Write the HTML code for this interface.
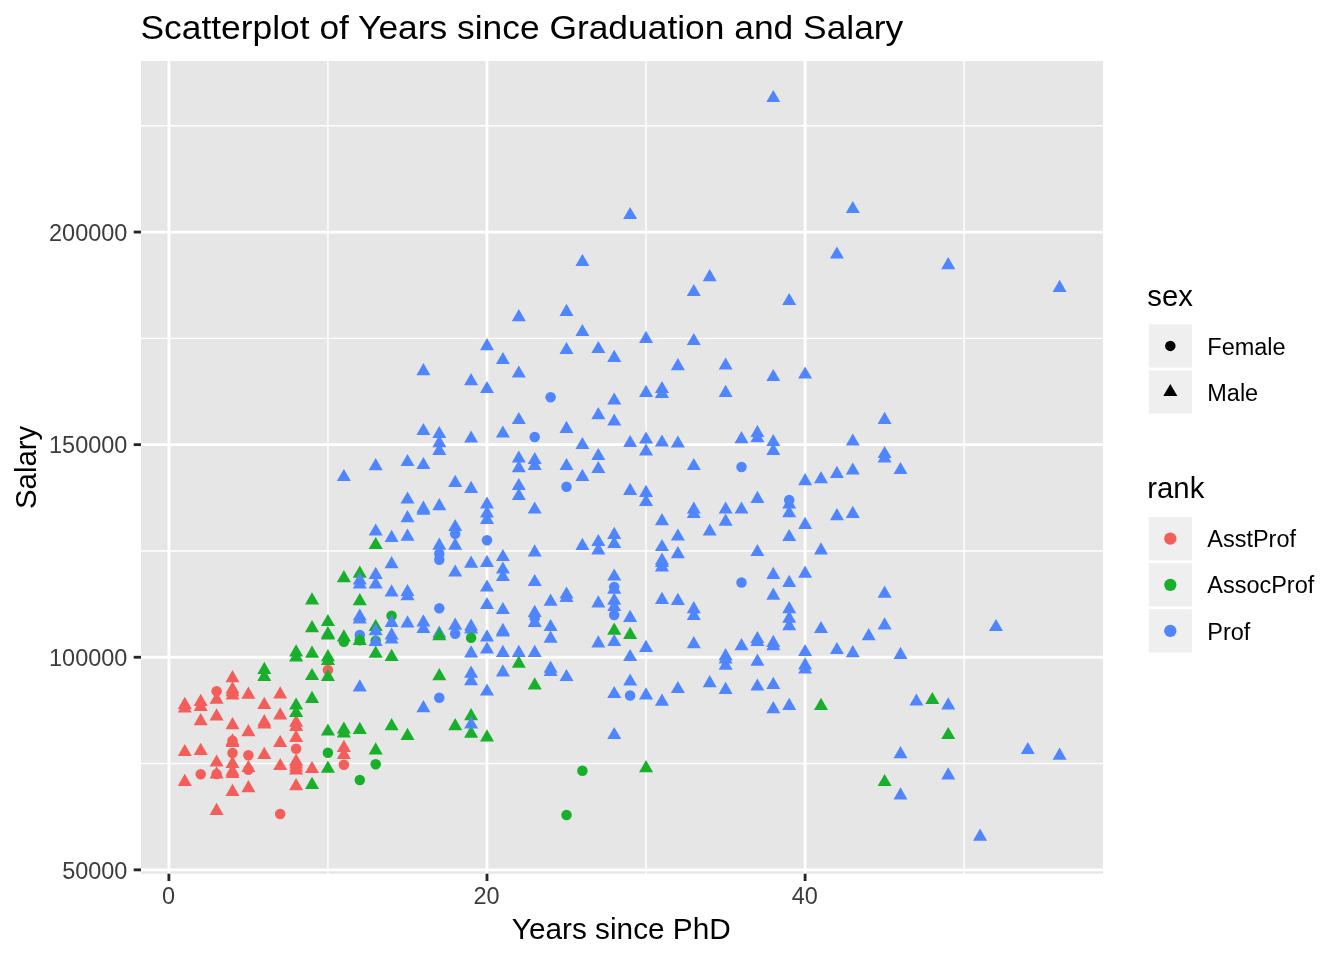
<!DOCTYPE html>
<html lang="en"><head><meta charset="utf-8"><title>Scatterplot of Years since Graduation and Salary</title>
<style>html,body{margin:0;padding:0;background:#fff}body{width:1344px;height:960px;overflow:hidden}svg{display:block}text{font-family:"Liberation Sans",sans-serif}</style>
</head><body>
<svg width="1344" height="960" viewBox="0 0 1344 960">
<rect width="1344" height="960" fill="#fff"/>
<rect x="141.0" y="61.0" width="962.0" height="812.7" fill="#E6E6E6"/>
<g stroke="#fff" stroke-width="1.42" fill="none">
<line x1="327.95" x2="327.95" y1="61.0" y2="873.7"/>
<line x1="646.05" x2="646.05" y1="61.0" y2="873.7"/>
<line x1="964.15" x2="964.15" y1="61.0" y2="873.7"/>
<line y1="763.55" y2="763.55" x1="141.0" x2="1103.0"/>
<line y1="550.95" y2="550.95" x1="141.0" x2="1103.0"/>
<line y1="338.35" y2="338.35" x1="141.0" x2="1103.0"/>
<line y1="125.75" y2="125.75" x1="141.0" x2="1103.0"/>
</g>
<g stroke="#fff" stroke-width="2.84" fill="none">
<line x1="168.90" x2="168.90" y1="61.0" y2="873.7"/>
<line x1="487.00" x2="487.00" y1="61.0" y2="873.7"/>
<line x1="805.10" x2="805.10" y1="61.0" y2="873.7"/>
<line y1="869.85" y2="869.85" x1="141.0" x2="1103.0"/>
<line y1="657.25" y2="657.25" x1="141.0" x2="1103.0"/>
<line y1="444.65" y2="444.65" x1="141.0" x2="1103.0"/>
<line y1="232.05" y2="232.05" x1="141.0" x2="1103.0"/>
</g>
<g>
<polygon points="359.8,565.6 366.8,577.8 352.7,577.8" fill="#18B02B"/>
<circle cx="359.8" cy="635.0" r="5.25" fill="#4F86FF"/>
<polygon points="375.7,618.9 382.7,631.1 368.6,631.1" fill="#18B02B"/>
<circle cx="375.7" cy="640.8" r="5.25" fill="#18B02B"/>
<circle cx="391.6" cy="615.8" r="5.25" fill="#18B02B"/>
<polygon points="439.3,625.6 446.3,637.8 432.3,637.8" fill="#4F86FF"/>
<polygon points="296.1,714.6 303.2,726.8 289.1,726.8" fill="#F45E5A"/>
<circle cx="327.9" cy="670.0" r="5.25" fill="#F45E5A"/>
<polygon points="471.1,708.1 478.1,720.3 464.1,720.3" fill="#18B02B"/>
<polygon points="773.3,89.9 780.3,102.1 766.3,102.1" fill="#4F86FF"/>
<polygon points="630.1,206.9 637.2,219.1 623.1,219.1" fill="#4F86FF"/>
<polygon points="582.4,253.9 589.4,266.1 575.4,266.1" fill="#4F86FF"/>
<polygon points="709.7,269.1 716.7,281.3 702.7,281.3" fill="#4F86FF"/>
<polygon points="693.8,283.9 700.8,296.1 686.8,296.1" fill="#4F86FF"/>
<polygon points="852.8,200.9 859.8,213.1 845.8,213.1" fill="#4F86FF"/>
<polygon points="836.9,246.4 843.9,258.6 829.9,258.6" fill="#4F86FF"/>
<polygon points="948.2,257.1 955.3,269.3 941.2,269.3" fill="#4F86FF"/>
<polygon points="1059.6,279.7 1066.6,291.9 1052.6,291.9" fill="#4F86FF"/>
<polygon points="487.0,338.1 494.0,350.3 480.0,350.3" fill="#4F86FF"/>
<polygon points="487.0,380.9 494.0,393.1 480.0,393.1" fill="#4F86FF"/>
<polygon points="487.0,496.4 494.0,508.6 480.0,508.6" fill="#4F86FF"/>
<polygon points="487.0,505.4 494.0,517.6 480.0,517.6" fill="#4F86FF"/>
<polygon points="502.9,351.9 509.9,364.1 495.9,364.1" fill="#4F86FF"/>
<polygon points="502.9,425.4 509.9,437.6 495.9,437.6" fill="#4F86FF"/>
<polygon points="518.8,309.1 525.8,321.3 511.8,321.3" fill="#4F86FF"/>
<polygon points="518.8,365.4 525.8,377.6 511.8,377.6" fill="#4F86FF"/>
<polygon points="518.8,411.9 525.8,424.1 511.8,424.1" fill="#4F86FF"/>
<polygon points="518.8,450.4 525.8,462.6 511.8,462.6" fill="#4F86FF"/>
<polygon points="518.8,460.1 525.8,472.3 511.8,472.3" fill="#4F86FF"/>
<polygon points="518.8,477.9 525.8,490.1 511.8,490.1" fill="#4F86FF"/>
<polygon points="518.8,487.9 525.8,500.1 511.8,500.1" fill="#4F86FF"/>
<circle cx="534.7" cy="437.0" r="5.25" fill="#4F86FF"/>
<polygon points="534.7,451.9 541.7,464.1 527.7,464.1" fill="#4F86FF"/>
<polygon points="534.7,457.7 541.7,469.9 527.7,469.9" fill="#4F86FF"/>
<polygon points="534.7,501.4 541.7,513.6 527.7,513.6" fill="#4F86FF"/>
<circle cx="550.6" cy="397.2" r="5.25" fill="#4F86FF"/>
<polygon points="566.5,303.7 573.5,315.9 559.5,315.9" fill="#4F86FF"/>
<polygon points="566.5,341.9 573.5,354.1 559.5,354.1" fill="#4F86FF"/>
<polygon points="566.5,420.7 573.5,432.9 559.5,432.9" fill="#4F86FF"/>
<polygon points="566.5,457.9 573.5,470.1 559.5,470.1" fill="#4F86FF"/>
<circle cx="566.5" cy="486.8" r="5.25" fill="#4F86FF"/>
<polygon points="582.4,323.9 589.4,336.1 575.4,336.1" fill="#4F86FF"/>
<polygon points="582.4,436.9 589.4,449.1 575.4,449.1" fill="#4F86FF"/>
<polygon points="582.4,468.7 589.4,480.9 575.4,480.9" fill="#4F86FF"/>
<polygon points="598.3,340.9 605.4,353.1 591.3,353.1" fill="#4F86FF"/>
<polygon points="598.3,407.1 605.4,419.3 591.3,419.3" fill="#4F86FF"/>
<polygon points="598.3,447.9 605.4,460.1 591.3,460.1" fill="#4F86FF"/>
<polygon points="598.3,460.9 605.4,473.1 591.3,473.1" fill="#4F86FF"/>
<polygon points="614.2,349.7 621.3,361.9 607.2,361.9" fill="#4F86FF"/>
<polygon points="614.2,392.4 621.3,404.6 607.2,404.6" fill="#4F86FF"/>
<polygon points="614.2,413.4 621.3,425.6 607.2,425.6" fill="#4F86FF"/>
<polygon points="630.1,434.9 637.2,447.1 623.1,447.1" fill="#4F86FF"/>
<polygon points="630.1,482.7 637.2,494.9 623.1,494.9" fill="#4F86FF"/>
<polygon points="646.0,330.7 653.1,342.9 639.0,342.9" fill="#4F86FF"/>
<polygon points="646.0,384.7 653.1,396.9 639.0,396.9" fill="#4F86FF"/>
<polygon points="646.0,431.4 653.1,443.6 639.0,443.6" fill="#4F86FF"/>
<polygon points="646.0,443.4 653.1,455.6 639.0,455.6" fill="#4F86FF"/>
<polygon points="646.0,484.7 653.1,496.9 639.0,496.9" fill="#4F86FF"/>
<polygon points="646.0,493.9 653.1,506.1 639.0,506.1" fill="#4F86FF"/>
<polygon points="662.0,380.9 669.0,393.1 654.9,393.1" fill="#4F86FF"/>
<polygon points="662.0,385.7 669.0,397.9 654.9,397.9" fill="#4F86FF"/>
<polygon points="662.0,434.4 669.0,446.6 654.9,446.6" fill="#4F86FF"/>
<polygon points="677.9,358.1 684.9,370.3 670.8,370.3" fill="#4F86FF"/>
<polygon points="677.9,435.4 684.9,447.6 670.8,447.6" fill="#4F86FF"/>
<polygon points="693.8,332.9 700.8,345.1 686.8,345.1" fill="#4F86FF"/>
<polygon points="693.8,457.9 700.8,470.1 686.8,470.1" fill="#4F86FF"/>
<polygon points="693.8,501.4 700.8,513.6 686.8,513.6" fill="#4F86FF"/>
<polygon points="693.8,505.9 700.8,518.1 686.8,518.1" fill="#4F86FF"/>
<polygon points="725.6,357.4 732.6,369.6 718.6,369.6" fill="#4F86FF"/>
<polygon points="725.6,384.7 732.6,396.9 718.6,396.9" fill="#4F86FF"/>
<polygon points="725.6,501.4 732.6,513.6 718.6,513.6" fill="#4F86FF"/>
<polygon points="741.5,431.1 748.5,443.3 734.5,443.3" fill="#4F86FF"/>
<circle cx="741.5" cy="467.0" r="5.25" fill="#4F86FF"/>
<polygon points="741.5,501.4 748.5,513.6 734.5,513.6" fill="#4F86FF"/>
<polygon points="757.4,424.9 764.4,437.1 750.4,437.1" fill="#4F86FF"/>
<polygon points="757.4,430.1 764.4,442.3 750.4,442.3" fill="#4F86FF"/>
<polygon points="757.4,490.7 764.4,502.9 750.4,502.9" fill="#4F86FF"/>
<polygon points="773.3,368.9 780.3,381.1 766.3,381.1" fill="#4F86FF"/>
<polygon points="773.3,433.9 780.3,446.1 766.3,446.1" fill="#4F86FF"/>
<polygon points="773.3,442.9 780.3,455.1 766.3,455.1" fill="#4F86FF"/>
<polygon points="789.2,292.9 796.2,305.1 782.2,305.1" fill="#4F86FF"/>
<circle cx="789.2" cy="500.0" r="5.25" fill="#4F86FF"/>
<polygon points="789.2,496.4 796.2,508.6 782.2,508.6" fill="#4F86FF"/>
<polygon points="789.2,505.1 796.2,517.3 782.2,517.3" fill="#4F86FF"/>
<polygon points="805.1,366.4 812.1,378.6 798.1,378.6" fill="#4F86FF"/>
<polygon points="805.1,473.1 812.1,485.3 798.1,485.3" fill="#4F86FF"/>
<polygon points="821.0,471.1 828.0,483.3 814.0,483.3" fill="#4F86FF"/>
<polygon points="836.9,465.7 843.9,477.9 829.9,477.9" fill="#4F86FF"/>
<polygon points="852.8,433.4 859.8,445.6 845.8,445.6" fill="#4F86FF"/>
<polygon points="852.8,462.4 859.8,474.6 845.8,474.6" fill="#4F86FF"/>
<polygon points="852.8,505.7 859.8,517.9 845.8,517.9" fill="#4F86FF"/>
<polygon points="884.6,411.7 891.6,423.9 877.6,423.9" fill="#4F86FF"/>
<polygon points="884.6,445.9 891.6,458.1 877.6,458.1" fill="#4F86FF"/>
<polygon points="884.6,450.4 891.6,462.6 877.6,462.6" fill="#4F86FF"/>
<polygon points="900.5,461.9 907.5,474.1 893.5,474.1" fill="#4F86FF"/>
<polygon points="343.9,468.9 350.9,481.1 336.8,481.1" fill="#4F86FF"/>
<polygon points="375.7,458.1 382.7,470.3 368.6,470.3" fill="#4F86FF"/>
<polygon points="407.5,453.9 414.5,466.1 400.5,466.1" fill="#4F86FF"/>
<polygon points="407.5,491.4 414.5,503.6 400.5,503.6" fill="#4F86FF"/>
<polygon points="423.4,363.1 430.4,375.3 416.4,375.3" fill="#4F86FF"/>
<polygon points="423.4,422.9 430.4,435.1 416.4,435.1" fill="#4F86FF"/>
<polygon points="423.4,456.9 430.4,469.1 416.4,469.1" fill="#4F86FF"/>
<polygon points="439.3,425.9 446.3,438.1 432.3,438.1" fill="#4F86FF"/>
<polygon points="439.3,435.1 446.3,447.3 432.3,447.3" fill="#4F86FF"/>
<polygon points="439.3,442.7 446.3,454.9 432.3,454.9" fill="#4F86FF"/>
<polygon points="439.3,498.1 446.3,510.3 432.3,510.3" fill="#4F86FF"/>
<polygon points="455.2,474.7 462.2,486.9 448.2,486.9" fill="#4F86FF"/>
<polygon points="471.1,373.1 478.1,385.3 464.1,385.3" fill="#4F86FF"/>
<polygon points="471.1,430.4 478.1,442.6 464.1,442.6" fill="#4F86FF"/>
<polygon points="471.1,480.7 478.1,492.9 464.1,492.9" fill="#4F86FF"/>
<polygon points="312.0,592.2 319.1,604.4 305.0,604.4" fill="#18B02B"/>
<polygon points="312.0,620.1 319.1,632.3 305.0,632.3" fill="#18B02B"/>
<polygon points="312.0,645.6 319.1,657.8 305.0,657.8" fill="#18B02B"/>
<polygon points="327.9,613.9 335.0,626.1 320.9,626.1" fill="#18B02B"/>
<polygon points="327.9,626.1 335.0,638.3 320.9,638.3" fill="#18B02B"/>
<polygon points="327.9,627.2 335.0,639.4 320.9,639.4" fill="#18B02B"/>
<polygon points="343.9,570.1 350.9,582.3 336.8,582.3" fill="#18B02B"/>
<circle cx="343.9" cy="641.7" r="5.25" fill="#18B02B"/>
<polygon points="359.8,572.2 366.8,584.4 352.7,584.4" fill="#4F86FF"/>
<polygon points="359.8,576.4 366.8,588.6 352.7,588.6" fill="#4F86FF"/>
<polygon points="359.8,593.1 366.8,605.3 352.7,605.3" fill="#18B02B"/>
<polygon points="359.8,608.4 366.8,620.6 352.7,620.6" fill="#4F86FF"/>
<polygon points="359.8,611.4 366.8,623.6 352.7,623.6" fill="#4F86FF"/>
<polygon points="359.8,632.9 366.8,645.1 352.7,645.1" fill="#18B02B"/>
<polygon points="375.7,523.4 382.7,535.6 368.6,535.6" fill="#4F86FF"/>
<polygon points="375.7,536.9 382.7,549.1 368.6,549.1" fill="#18B02B"/>
<polygon points="375.7,566.7 382.7,578.9 368.6,578.9" fill="#4F86FF"/>
<polygon points="375.7,576.4 382.7,588.6 368.6,588.6" fill="#4F86FF"/>
<polygon points="375.7,623.1 382.7,635.3 368.6,635.3" fill="#4F86FF"/>
<polygon points="375.7,633.9 382.7,646.1 368.6,646.1" fill="#4F86FF"/>
<polygon points="375.7,645.6 382.7,657.8 368.6,657.8" fill="#18B02B"/>
<polygon points="391.6,529.7 398.6,541.9 384.6,541.9" fill="#4F86FF"/>
<polygon points="391.6,556.1 398.6,568.3 384.6,568.3" fill="#4F86FF"/>
<polygon points="391.6,584.2 398.6,596.4 384.6,596.4" fill="#4F86FF"/>
<polygon points="391.6,614.7 398.6,626.9 384.6,626.9" fill="#4F86FF"/>
<polygon points="391.6,627.2 398.6,639.4 384.6,639.4" fill="#4F86FF"/>
<polygon points="391.6,631.4 398.6,643.6 384.6,643.6" fill="#4F86FF"/>
<polygon points="407.5,510.1 414.5,522.3 400.5,522.3" fill="#4F86FF"/>
<polygon points="407.5,528.6 414.5,540.8 400.5,540.8" fill="#4F86FF"/>
<polygon points="407.5,583.9 414.5,596.1 400.5,596.1" fill="#4F86FF"/>
<polygon points="407.5,588.1 414.5,600.3 400.5,600.3" fill="#4F86FF"/>
<polygon points="407.5,615.2 414.5,627.4 400.5,627.4" fill="#4F86FF"/>
<polygon points="423.4,500.6 430.4,512.8 416.4,512.8" fill="#4F86FF"/>
<polygon points="423.4,502.6 430.4,514.8 416.4,514.8" fill="#4F86FF"/>
<polygon points="423.4,614.2 430.4,626.4 416.4,626.4" fill="#4F86FF"/>
<polygon points="423.4,620.9 430.4,633.1 416.4,633.1" fill="#4F86FF"/>
<circle cx="439.3" cy="553.7" r="5.25" fill="#4F86FF"/>
<circle cx="439.3" cy="559.7" r="5.25" fill="#4F86FF"/>
<circle cx="439.3" cy="608.3" r="5.25" fill="#4F86FF"/>
<polygon points="455.2,518.9 462.2,531.1 448.2,531.1" fill="#4F86FF"/>
<circle cx="455.2" cy="533.8" r="5.25" fill="#4F86FF"/>
<polygon points="455.2,537.6 462.2,549.8 448.2,549.8" fill="#4F86FF"/>
<polygon points="455.2,564.4 462.2,576.6 448.2,576.6" fill="#4F86FF"/>
<polygon points="455.2,617.6 462.2,629.8 448.2,629.8" fill="#4F86FF"/>
<circle cx="455.2" cy="633.8" r="5.25" fill="#4F86FF"/>
<polygon points="471.1,555.6 478.1,567.8 464.1,567.8" fill="#4F86FF"/>
<polygon points="471.1,618.6 478.1,630.8 464.1,630.8" fill="#4F86FF"/>
<polygon points="471.1,621.4 478.1,633.6 464.1,633.6" fill="#4F86FF"/>
<circle cx="471.1" cy="637.8" r="5.25" fill="#18B02B"/>
<polygon points="471.1,645.2 478.1,657.4 464.1,657.4" fill="#4F86FF"/>
<polygon points="487.0,511.7 494.0,523.9 480.0,523.9" fill="#4F86FF"/>
<circle cx="487.0" cy="540.3" r="5.25" fill="#4F86FF"/>
<polygon points="487.0,554.7 494.0,566.9 480.0,566.9" fill="#4F86FF"/>
<polygon points="487.0,579.4 494.0,591.6 480.0,591.6" fill="#4F86FF"/>
<polygon points="487.0,596.9 494.0,609.1 480.0,609.1" fill="#4F86FF"/>
<polygon points="487.0,629.2 494.0,641.4 480.0,641.4" fill="#4F86FF"/>
<polygon points="487.0,641.4 494.0,653.6 480.0,653.6" fill="#4F86FF"/>
<polygon points="502.9,548.9 509.9,561.1 495.9,561.1" fill="#4F86FF"/>
<polygon points="502.9,561.4 509.9,573.6 495.9,573.6" fill="#4F86FF"/>
<polygon points="502.9,568.9 509.9,581.1 495.9,581.1" fill="#4F86FF"/>
<polygon points="502.9,601.9 509.9,614.1 495.9,614.1" fill="#4F86FF"/>
<polygon points="502.9,622.7 509.9,634.9 495.9,634.9" fill="#4F86FF"/>
<polygon points="502.9,624.4 509.9,636.6 495.9,636.6" fill="#4F86FF"/>
<polygon points="502.9,644.7 509.9,656.9 495.9,656.9" fill="#4F86FF"/>
<polygon points="518.8,644.7 525.8,656.9 511.8,656.9" fill="#4F86FF"/>
<polygon points="534.7,544.2 541.7,556.4 527.7,556.4" fill="#4F86FF"/>
<polygon points="534.7,573.9 541.7,586.1 527.7,586.1" fill="#4F86FF"/>
<polygon points="534.7,604.7 541.7,616.9 527.7,616.9" fill="#4F86FF"/>
<circle cx="534.7" cy="618.0" r="5.25" fill="#4F86FF"/>
<polygon points="534.7,614.7 541.7,626.9 527.7,626.9" fill="#4F86FF"/>
<polygon points="534.7,644.7 541.7,656.9 527.7,656.9" fill="#4F86FF"/>
<polygon points="550.6,593.6 557.6,605.8 543.6,605.8" fill="#4F86FF"/>
<polygon points="550.6,618.9 557.6,631.1 543.6,631.1" fill="#4F86FF"/>
<polygon points="550.6,630.6 557.6,642.8 543.6,642.8" fill="#4F86FF"/>
<polygon points="566.5,586.4 573.5,598.6 559.5,598.6" fill="#4F86FF"/>
<polygon points="566.5,589.7 573.5,601.9 559.5,601.9" fill="#4F86FF"/>
<polygon points="582.4,537.7 589.4,549.9 575.4,549.9" fill="#4F86FF"/>
<polygon points="598.3,533.9 605.4,546.1 591.3,546.1" fill="#4F86FF"/>
<polygon points="598.3,542.2 605.4,554.4 591.3,554.4" fill="#4F86FF"/>
<polygon points="598.3,595.2 605.4,607.4 591.3,607.4" fill="#4F86FF"/>
<polygon points="598.3,635.2 605.4,647.4 591.3,647.4" fill="#4F86FF"/>
<polygon points="614.2,526.7 621.3,538.9 607.2,538.9" fill="#4F86FF"/>
<polygon points="614.2,535.9 621.3,548.1 607.2,548.1" fill="#4F86FF"/>
<polygon points="614.2,568.4 621.3,580.6 607.2,580.6" fill="#4F86FF"/>
<circle cx="614.2" cy="587.0" r="5.25" fill="#4F86FF"/>
<polygon points="614.2,581.6 621.3,593.8 607.2,593.8" fill="#4F86FF"/>
<polygon points="614.2,592.6 621.3,604.8 607.2,604.8" fill="#4F86FF"/>
<polygon points="614.2,598.9 621.3,611.1 607.2,611.1" fill="#4F86FF"/>
<circle cx="614.2" cy="615.0" r="5.25" fill="#4F86FF"/>
<polygon points="614.2,622.6 621.3,634.8 607.2,634.8" fill="#18B02B"/>
<polygon points="630.1,609.7 637.2,621.9 623.1,621.9" fill="#4F86FF"/>
<polygon points="630.1,626.7 637.2,638.9 623.1,638.9" fill="#18B02B"/>
<polygon points="646.0,639.7 653.1,651.9 639.0,651.9" fill="#4F86FF"/>
<polygon points="662.0,513.1 669.0,525.3 654.9,525.3" fill="#4F86FF"/>
<polygon points="662.0,538.9 669.0,551.1 654.9,551.1" fill="#4F86FF"/>
<polygon points="662.0,552.6 669.0,564.8 654.9,564.8" fill="#4F86FF"/>
<polygon points="662.0,554.7 669.0,566.9 654.9,566.9" fill="#4F86FF"/>
<polygon points="662.0,559.2 669.0,571.4 654.9,571.4" fill="#4F86FF"/>
<polygon points="662.0,591.7 669.0,603.9 654.9,603.9" fill="#4F86FF"/>
<polygon points="677.9,528.4 684.9,540.6 670.8,540.6" fill="#4F86FF"/>
<polygon points="677.9,546.1 684.9,558.3 670.8,558.3" fill="#4F86FF"/>
<polygon points="677.9,592.7 684.9,604.9 670.8,604.9" fill="#4F86FF"/>
<polygon points="693.8,601.1 700.8,613.3 686.8,613.3" fill="#4F86FF"/>
<polygon points="693.8,607.7 700.8,619.9 686.8,619.9" fill="#4F86FF"/>
<polygon points="693.8,636.1 700.8,648.3 686.8,648.3" fill="#4F86FF"/>
<polygon points="709.7,523.4 716.7,535.6 702.7,535.6" fill="#4F86FF"/>
<polygon points="725.6,513.6 732.6,525.8 718.6,525.8" fill="#4F86FF"/>
<polygon points="725.6,648.1 732.6,660.3 718.6,660.3" fill="#4F86FF"/>
<circle cx="741.5" cy="582.5" r="5.25" fill="#4F86FF"/>
<polygon points="741.5,638.1 748.5,650.3 734.5,650.3" fill="#4F86FF"/>
<polygon points="757.4,543.9 764.4,556.1 750.4,556.1" fill="#4F86FF"/>
<polygon points="757.4,630.9 764.4,643.1 750.4,643.1" fill="#4F86FF"/>
<polygon points="757.4,633.9 764.4,646.1 750.4,646.1" fill="#4F86FF"/>
<polygon points="773.3,566.7 780.3,578.9 766.3,578.9" fill="#4F86FF"/>
<polygon points="773.3,587.6 780.3,599.8 766.3,599.8" fill="#4F86FF"/>
<polygon points="773.3,634.7 780.3,646.9 766.3,646.9" fill="#4F86FF"/>
<polygon points="773.3,638.1 780.3,650.3 766.3,650.3" fill="#4F86FF"/>
<polygon points="789.2,528.9 796.2,541.1 782.2,541.1" fill="#4F86FF"/>
<polygon points="789.2,574.7 796.2,586.9 782.2,586.9" fill="#4F86FF"/>
<polygon points="789.2,601.1 796.2,613.3 782.2,613.3" fill="#4F86FF"/>
<polygon points="789.2,610.6 796.2,622.8 782.2,622.8" fill="#4F86FF"/>
<polygon points="789.2,618.1 796.2,630.3 782.2,630.3" fill="#4F86FF"/>
<polygon points="805.1,516.7 812.1,528.9 798.1,528.9" fill="#4F86FF"/>
<polygon points="805.1,565.6 812.1,577.8 798.1,577.8" fill="#4F86FF"/>
<polygon points="805.1,643.9 812.1,656.1 798.1,656.1" fill="#4F86FF"/>
<polygon points="821.0,542.2 828.0,554.4 814.0,554.4" fill="#4F86FF"/>
<polygon points="821.0,620.9 828.0,633.1 814.0,633.1" fill="#4F86FF"/>
<polygon points="836.9,508.1 843.9,520.3 829.9,520.3" fill="#4F86FF"/>
<polygon points="836.9,641.9 843.9,654.1 829.9,654.1" fill="#4F86FF"/>
<polygon points="852.8,645.1 859.8,657.3 845.8,657.3" fill="#4F86FF"/>
<polygon points="868.7,628.1 875.7,640.3 861.7,640.3" fill="#4F86FF"/>
<polygon points="884.6,585.6 891.6,597.8 877.6,597.8" fill="#4F86FF"/>
<polygon points="884.6,617.2 891.6,629.4 877.6,629.4" fill="#4F86FF"/>
<polygon points="900.5,646.7 907.5,658.9 893.5,658.9" fill="#4F86FF"/>
<polygon points="996.0,618.9 1003.0,631.1 988.9,631.1" fill="#4F86FF"/>
<polygon points="184.8,696.8 191.8,709.0 177.8,709.0" fill="#F45E5A"/>
<polygon points="184.8,700.3 191.8,712.5 177.8,712.5" fill="#F45E5A"/>
<polygon points="184.8,743.9 191.8,756.1 177.8,756.1" fill="#F45E5A"/>
<polygon points="200.7,693.7 207.7,705.9 193.7,705.9" fill="#F45E5A"/>
<polygon points="200.7,698.7 207.7,710.9 193.7,710.9" fill="#F45E5A"/>
<polygon points="200.7,713.0 207.7,725.2 193.7,725.2" fill="#F45E5A"/>
<polygon points="200.7,742.8 207.7,755.0 193.7,755.0" fill="#F45E5A"/>
<polygon points="216.6,691.6 223.6,703.8 209.6,703.8" fill="#F45E5A"/>
<circle cx="216.6" cy="691.2" r="5.25" fill="#F45E5A"/>
<polygon points="216.6,708.3 223.6,720.5 209.6,720.5" fill="#F45E5A"/>
<polygon points="232.5,670.0 239.5,682.2 225.5,682.2" fill="#F45E5A"/>
<polygon points="232.5,681.2 239.5,693.4 225.5,693.4" fill="#F45E5A"/>
<polygon points="232.5,684.1 239.5,696.3 225.5,696.3" fill="#F45E5A"/>
<polygon points="232.5,687.4 239.5,699.6 225.5,699.6" fill="#F45E5A"/>
<polygon points="232.5,717.1 239.5,729.3 225.5,729.3" fill="#F45E5A"/>
<polygon points="232.5,733.3 239.5,745.5 225.5,745.5" fill="#F45E5A"/>
<circle cx="232.5" cy="740.7" r="5.25" fill="#F45E5A"/>
<polygon points="232.5,734.9 239.5,747.1 225.5,747.1" fill="#F45E5A"/>
<circle cx="232.5" cy="753.0" r="5.25" fill="#F45E5A"/>
<polygon points="248.4,686.5 255.4,698.7 241.4,698.7" fill="#F45E5A"/>
<polygon points="248.4,724.0 255.4,736.2 241.4,736.2" fill="#F45E5A"/>
<circle cx="248.4" cy="755.3" r="5.25" fill="#F45E5A"/>
<polygon points="264.3,661.7 271.3,673.9 257.3,673.9" fill="#18B02B"/>
<polygon points="264.3,668.7 271.3,680.9 257.3,680.9" fill="#18B02B"/>
<polygon points="264.3,696.8 271.3,709.0 257.3,709.0" fill="#F45E5A"/>
<polygon points="264.3,714.1 271.3,726.3 257.3,726.3" fill="#F45E5A"/>
<polygon points="264.3,716.2 271.3,728.4 257.3,728.4" fill="#F45E5A"/>
<polygon points="264.3,746.8 271.3,759.0 257.3,759.0" fill="#F45E5A"/>
<polygon points="280.2,686.3 287.2,698.5 273.2,698.5" fill="#F45E5A"/>
<polygon points="280.2,707.2 287.2,719.4 273.2,719.4" fill="#F45E5A"/>
<polygon points="280.2,734.8 287.2,747.0 273.2,747.0" fill="#F45E5A"/>
<polygon points="296.1,697.4 303.2,709.6 289.1,709.6" fill="#18B02B"/>
<polygon points="296.1,704.9 303.2,717.1 289.1,717.1" fill="#18B02B"/>
<polygon points="296.1,718.8 303.2,731.0 289.1,731.0" fill="#F45E5A"/>
<polygon points="296.1,729.7 303.2,741.9 289.1,741.9" fill="#F45E5A"/>
<circle cx="296.1" cy="748.8" r="5.25" fill="#F45E5A"/>
<polygon points="184.8,773.7 191.8,785.9 177.8,785.9" fill="#F45E5A"/>
<circle cx="200.7" cy="774.2" r="5.25" fill="#F45E5A"/>
<polygon points="216.6,754.4 223.6,766.6 209.6,766.6" fill="#F45E5A"/>
<polygon points="216.6,766.3 223.6,778.5 209.6,778.5" fill="#F45E5A"/>
<circle cx="216.6" cy="774.1" r="5.25" fill="#F45E5A"/>
<polygon points="216.6,802.7 223.6,814.9 209.6,814.9" fill="#F45E5A"/>
<polygon points="232.5,755.8 239.5,768.0 225.5,768.0" fill="#F45E5A"/>
<polygon points="232.5,763.6 239.5,775.8 225.5,775.8" fill="#F45E5A"/>
<polygon points="232.5,765.9 239.5,778.1 225.5,778.1" fill="#F45E5A"/>
<polygon points="232.5,783.7 239.5,795.9 225.5,795.9" fill="#F45E5A"/>
<polygon points="248.4,759.9 255.4,772.1 241.4,772.1" fill="#F45E5A"/>
<circle cx="248.4" cy="769.7" r="5.25" fill="#F45E5A"/>
<polygon points="248.4,780.1 255.4,792.3 241.4,792.3" fill="#F45E5A"/>
<polygon points="280.2,757.9 287.2,770.1 273.2,770.1" fill="#F45E5A"/>
<circle cx="280.2" cy="814.0" r="5.25" fill="#F45E5A"/>
<polygon points="296.1,753.5 303.2,765.7 289.1,765.7" fill="#F45E5A"/>
<polygon points="296.1,756.3 303.2,768.5 289.1,768.5" fill="#F45E5A"/>
<polygon points="296.1,759.2 303.2,771.4 289.1,771.4" fill="#F45E5A"/>
<polygon points="296.1,762.3 303.2,774.5 289.1,774.5" fill="#F45E5A"/>
<polygon points="296.1,778.1 303.2,790.3 289.1,790.3" fill="#F45E5A"/>
<polygon points="312.0,667.9 319.1,680.1 305.0,680.1" fill="#18B02B"/>
<polygon points="312.0,690.7 319.1,702.9 305.0,702.9" fill="#18B02B"/>
<polygon points="327.9,649.0 335.0,661.2 320.9,661.2" fill="#18B02B"/>
<polygon points="327.9,652.8 335.0,665.0 320.9,665.0" fill="#18B02B"/>
<polygon points="327.9,668.9 335.0,681.1 320.9,681.1" fill="#18B02B"/>
<polygon points="359.8,679.2 366.8,691.4 352.7,691.4" fill="#4F86FF"/>
<polygon points="391.6,648.8 398.6,661.0 384.6,661.0" fill="#18B02B"/>
<polygon points="423.4,700.0 430.4,712.2 416.4,712.2" fill="#4F86FF"/>
<polygon points="312.0,760.9 319.1,773.1 305.0,773.1" fill="#F45E5A"/>
<polygon points="312.0,776.7 319.1,788.9 305.0,788.9" fill="#18B02B"/>
<polygon points="327.9,723.4 335.0,735.6 320.9,735.6" fill="#18B02B"/>
<circle cx="327.9" cy="752.8" r="5.25" fill="#18B02B"/>
<polygon points="327.9,760.6 335.0,772.8 320.9,772.8" fill="#18B02B"/>
<polygon points="343.9,721.4 350.9,733.6 336.8,733.6" fill="#18B02B"/>
<polygon points="343.9,725.2 350.9,737.4 336.8,737.4" fill="#18B02B"/>
<polygon points="343.9,739.7 350.9,751.9 336.8,751.9" fill="#F45E5A"/>
<polygon points="343.9,746.9 350.9,759.1 336.8,759.1" fill="#F45E5A"/>
<circle cx="343.9" cy="764.7" r="5.25" fill="#F45E5A"/>
<polygon points="359.8,721.7 366.8,733.9 352.7,733.9" fill="#18B02B"/>
<circle cx="359.8" cy="780.0" r="5.25" fill="#18B02B"/>
<polygon points="375.7,742.2 382.7,754.4 368.6,754.4" fill="#18B02B"/>
<circle cx="375.7" cy="764.2" r="5.25" fill="#18B02B"/>
<polygon points="391.6,718.1 398.6,730.3 384.6,730.3" fill="#18B02B"/>
<polygon points="407.5,727.7 414.5,739.9 400.5,739.9" fill="#18B02B"/>
<polygon points="439.3,668.1 446.3,680.3 432.3,680.3" fill="#18B02B"/>
<circle cx="439.3" cy="697.8" r="5.25" fill="#4F86FF"/>
<polygon points="455.2,718.1 462.2,730.3 448.2,730.3" fill="#18B02B"/>
<polygon points="471.1,665.6 478.1,677.8 464.1,677.8" fill="#4F86FF"/>
<polygon points="471.1,673.1 478.1,685.3 464.1,685.3" fill="#4F86FF"/>
<polygon points="471.1,725.6 478.1,737.8 464.1,737.8" fill="#18B02B"/>
<polygon points="487.0,683.4 494.0,695.6 480.0,695.6" fill="#4F86FF"/>
<polygon points="487.0,729.2 494.0,741.4 480.0,741.4" fill="#18B02B"/>
<polygon points="502.9,664.2 509.9,676.4 495.9,676.4" fill="#4F86FF"/>
<polygon points="518.8,655.6 525.8,667.8 511.8,667.8" fill="#18B02B"/>
<polygon points="534.7,677.2 541.7,689.4 527.7,689.4" fill="#18B02B"/>
<polygon points="550.6,660.6 557.6,672.8 543.6,672.8" fill="#4F86FF"/>
<polygon points="550.6,663.9 557.6,676.1 543.6,676.1" fill="#4F86FF"/>
<polygon points="566.5,668.9 573.5,681.1 559.5,681.1" fill="#4F86FF"/>
<circle cx="582.4" cy="770.8" r="5.25" fill="#18B02B"/>
<polygon points="614.2,685.9 621.3,698.1 607.2,698.1" fill="#4F86FF"/>
<polygon points="614.2,726.9 621.3,739.1 607.2,739.1" fill="#4F86FF"/>
<polygon points="630.1,648.9 637.2,661.1 623.1,661.1" fill="#4F86FF"/>
<polygon points="630.1,673.4 637.2,685.6 623.1,685.6" fill="#4F86FF"/>
<circle cx="630.1" cy="695.5" r="5.25" fill="#4F86FF"/>
<polygon points="646.0,687.2 653.1,699.4 639.0,699.4" fill="#4F86FF"/>
<polygon points="646.0,760.1 653.1,772.3 639.0,772.3" fill="#18B02B"/>
<polygon points="662.0,693.6 669.0,705.8 654.9,705.8" fill="#4F86FF"/>
<polygon points="677.9,680.9 684.9,693.1 670.8,693.1" fill="#4F86FF"/>
<polygon points="709.7,675.1 716.7,687.3 702.7,687.3" fill="#4F86FF"/>
<polygon points="725.6,651.2 732.6,663.4 718.6,663.4" fill="#4F86FF"/>
<polygon points="725.6,657.6 732.6,669.8 718.6,669.8" fill="#4F86FF"/>
<polygon points="725.6,681.7 732.6,693.9 718.6,693.9" fill="#4F86FF"/>
<polygon points="757.4,653.6 764.4,665.8 750.4,665.8" fill="#4F86FF"/>
<polygon points="757.4,678.4 764.4,690.6 750.4,690.6" fill="#4F86FF"/>
<polygon points="773.3,676.7 780.3,688.9 766.3,688.9" fill="#4F86FF"/>
<polygon points="773.3,701.1 780.3,713.3 766.3,713.3" fill="#4F86FF"/>
<polygon points="789.2,697.7 796.2,709.9 782.2,709.9" fill="#4F86FF"/>
<polygon points="805.1,657.2 812.1,669.4 798.1,669.4" fill="#4F86FF"/>
<polygon points="805.1,661.4 812.1,673.6 798.1,673.6" fill="#4F86FF"/>
<polygon points="821.0,697.7 828.0,709.9 814.0,709.9" fill="#18B02B"/>
<polygon points="884.6,773.9 891.6,786.1 877.6,786.1" fill="#18B02B"/>
<polygon points="900.5,746.1 907.5,758.3 893.5,758.3" fill="#4F86FF"/>
<polygon points="900.5,787.2 907.5,799.4 893.5,799.4" fill="#4F86FF"/>
<polygon points="916.4,693.4 923.4,705.6 909.4,705.6" fill="#4F86FF"/>
<polygon points="932.3,691.9 939.4,704.1 925.3,704.1" fill="#18B02B"/>
<polygon points="948.2,697.2 955.3,709.4 941.2,709.4" fill="#4F86FF"/>
<polygon points="948.2,726.9 955.3,739.1 941.2,739.1" fill="#18B02B"/>
<polygon points="948.2,767.2 955.3,779.4 941.2,779.4" fill="#4F86FF"/>
<polygon points="980.1,828.6 987.1,840.8 973.0,840.8" fill="#4F86FF"/>
<polygon points="1027.8,741.9 1034.8,754.1 1020.8,754.1" fill="#4F86FF"/>
<polygon points="1059.6,747.6 1066.6,759.8 1052.6,759.8" fill="#4F86FF"/>
<circle cx="566.5" cy="815.0" r="5.25" fill="#18B02B"/>
<polygon points="296.1,644.3 303.2,656.5 289.1,656.5" fill="#18B02B"/>
<polygon points="296.1,649.3 303.2,661.5 289.1,661.5" fill="#18B02B"/>
<polygon points="343.9,629.2 350.9,641.4 336.8,641.4" fill="#18B02B"/>
<circle cx="359.8" cy="640.3" r="5.25" fill="#18B02B"/>
<polygon points="439.3,537.6 446.3,549.8 432.3,549.8" fill="#4F86FF"/>
<polygon points="439.3,628.1 446.3,640.3 432.3,640.3" fill="#18B02B"/>
<polygon points="614.2,633.9 621.3,646.1 607.2,646.1" fill="#4F86FF"/>
<polygon points="471.1,716.4 478.1,728.6 464.1,728.6" fill="#4F86FF"/>
</g>
<g stroke="#262626" stroke-width="2.84">
<line x1="168.90" x2="168.90" y1="873.7" y2="881.0"/>
<line x1="487.00" x2="487.00" y1="873.7" y2="881.0"/>
<line x1="805.10" x2="805.10" y1="873.7" y2="881.0"/>
<line y1="869.85" y2="869.85" x1="133.7" x2="141.0"/>
<line y1="657.25" y2="657.25" x1="133.7" x2="141.0"/>
<line y1="444.65" y2="444.65" x1="133.7" x2="141.0"/>
<line y1="232.05" y2="232.05" x1="133.7" x2="141.0"/>
</g>
<g fill="#3C3C3C" font-size="23.47px">
<text x="168.5" y="904.2" text-anchor="middle">0</text>
<text x="486.6" y="904.2" text-anchor="middle">20</text>
<text x="804.7" y="904.2" text-anchor="middle">40</text>
<text x="127.4" y="878.6" text-anchor="end">50000</text>
<text x="127.4" y="666.0" text-anchor="end">100000</text>
<text x="127.4" y="453.4" text-anchor="end">150000</text>
<text x="127.4" y="240.8" text-anchor="end">200000</text>
</g>
<text x="140.5" y="39" font-size="34px" fill="#000" textLength="762.8" lengthAdjust="spacingAndGlyphs">Scatterplot of Years since Graduation and Salary</text>
<text x="621.3" y="938.6" font-size="29.33px" fill="#000" text-anchor="middle" textLength="219" lengthAdjust="spacingAndGlyphs">Years since PhD</text>
<text transform="translate(35.7,467.4) rotate(-90)" font-size="29.33px" fill="#000" text-anchor="middle">Salary</text>
<text x="1147.3" y="305.8" font-size="29.33px" fill="#000">sex</text>
<rect x="1148.72" y="324.32" width="43.24" height="43.24" fill="#EFEFEF"/>
<rect x="1148.72" y="370.40" width="43.24" height="43.24" fill="#EFEFEF"/>
<circle cx="1170.3" cy="345.9" r="5.25" fill="#000"/>
<polygon points="1170.3,383.9 1177.4,396.1 1163.3,396.1" fill="#000"/>
<g font-size="23.47px" fill="#000">
<text x="1207.3" y="354.5">Female</text>
<text x="1207.3" y="400.6">Male</text>
</g>
<text x="1147.3" y="498" font-size="29.33px" fill="#000">rank</text>
<rect x="1148.72" y="517.12" width="43.24" height="43.24" fill="#EFEFEF"/>
<circle cx="1170.3" cy="538.7" r="6.15" fill="#F45E5A"/>
<text x="1207.3" y="547.3" font-size="23.47px" fill="#000">AsstProf</text>
<rect x="1148.72" y="563.20" width="43.24" height="43.24" fill="#EFEFEF"/>
<circle cx="1170.3" cy="584.8" r="6.15" fill="#18B02B"/>
<text x="1207.3" y="593.4" font-size="23.47px" fill="#000">AssocProf</text>
<rect x="1148.72" y="609.28" width="43.24" height="43.24" fill="#EFEFEF"/>
<circle cx="1170.3" cy="630.9" r="6.15" fill="#4F86FF"/>
<text x="1207.3" y="639.5" font-size="23.47px" fill="#000">Prof</text>
</svg>
</body></html>
